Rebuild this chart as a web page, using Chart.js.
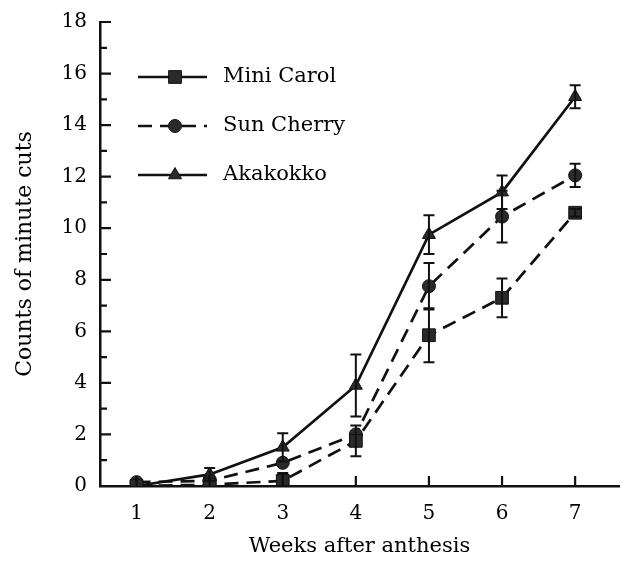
<!DOCTYPE html>
<html><head><meta charset="utf-8">
<script src="https://cdn.jsdelivr.net/npm/chart.js@4/dist/chart.umd.min.js"></script>
<style>html,body{margin:0;padding:0;background:#fff}</style>
</head><body>
<canvas id="c" width="629" height="563" style="display:block;width:629px;height:563px"></canvas>
<script>
// ---- data ----
const weeks = [1, 2, 3, 4, 5, 6, 7];
const seriesNames = ['Mini Carol', 'Sun Cherry', 'Akakokko'];
const miniCarol    = [0.0, 0.05, 0.2, 1.75, 5.85, 7.3, 10.6];
const miniCarolErr = [0, 0, 0.3, 0.6, 1.05, 0.75, 0.15];
const sunCherry    = [0.15, 0.2, 0.9, 2.0, 7.75, 10.45, 12.05];
const sunCherryErr = [0, 0, 0, 0, 0.9, 1.0, 0.45];
const akakokko     = [0.0, 0.45, 1.5, 3.9, 9.75, 11.4, 15.1];
const akakokkoErr  = [0, 0.25, 0.55, 1.2, 0.75, 0.65, 0.45];
const yTickValues = [0, 2, 4, 6, 8, 10, 12, 14, 16, 18];
const yMinorValues = [1, 3, 5, 7, 9, 11, 13, 15, 17];
const xTitle = 'Weeks after anthesis';
const yTitle = 'Counts of minute cuts';

const FONT = "'DejaVu Serif', 'Liberation Serif', serif";
const INK = '#111';
const DASH = [14, 8];

const values = [miniCarol, sunCherry, akakokko];
const errors = [miniCarolErr, sunCherryErr, akakokkoErr];
const styles = [
  { pointStyle: 'rect', radius: 9, dash: DASH, legendDash: [] },
  { pointStyle: 'circle', radius: 6.5, dash: DASH, legendDash: [14, 8] },
  { pointStyle: 'triangle', radius: 7.5, dash: [], legendDash: [] }
];

const datasets = seriesNames.map((name, i) => ({
  label: name,
  data: weeks.map((w, j) => ({ x: w, y: values[i][j] })),
  errors: errors[i],
  borderColor: INK,
  borderWidth: 2.7,
  borderDash: styles[i].dash,
  backgroundColor: '#2a2a2a',
  pointStyle: styles[i].pointStyle,
  pointRadius: styles[i].radius,
  pointBackgroundColor: '#2a2a2a',
  pointBorderColor: INK,
  pointBorderWidth: 1,
  tension: 0,
  fill: false
}));

const errorBars = {
  id: 'errorBars',
  afterDatasetsDraw(chart) {
    const ctx = chart.ctx;
    const xs = chart.scales.x, ys = chart.scales.y;
    ctx.save();
    ctx.strokeStyle = INK;
    ctx.lineWidth = 2;
    ctx.setLineDash([]);
    chart.data.datasets.forEach(ds => {
      ds.data.forEach((p, j) => {
        const e = ds.errors[j];
        if (!e) return;
        const px = xs.getPixelForValue(p.x);
        const top = ys.getPixelForValue(p.y + e);
        const bot = ys.getPixelForValue(Math.max(0, p.y - e));
        ctx.beginPath();
        ctx.moveTo(px, top); ctx.lineTo(px, bot);
        ctx.moveTo(px - 5.5, top); ctx.lineTo(px + 5.5, top);
        ctx.moveTo(px - 5.5, bot); ctx.lineTo(px + 5.5, bot);
        ctx.stroke();
      });
    });
    ctx.restore();
  }
};

const axisTicks = {
  id: 'axisTicks',
  afterDraw(chart) {
    const ctx = chart.ctx;
    const xs = chart.scales.x, ys = chart.scales.y;
    const a = chart.chartArea;
    ctx.save();
    ctx.strokeStyle = INK;
    ctx.lineWidth = 2.2;
    ctx.setLineDash([]);
    ctx.beginPath();
    yTickValues.forEach(v => {
      const py = ys.getPixelForValue(v);
      ctx.moveTo(a.left, py); ctx.lineTo(a.left + 11, py);
    });
    yMinorValues.forEach(v => {
      const py = ys.getPixelForValue(v);
      ctx.moveTo(a.left, py); ctx.lineTo(a.left + 7, py);
    });
    weeks.forEach(v => {
      const px = xs.getPixelForValue(v);
      ctx.moveTo(px, a.bottom); ctx.lineTo(px, a.bottom - 10);
    });
    ctx.stroke();
    ctx.restore();
  }
};

const lineLegend = {
  id: 'lineLegend',
  afterDraw(chart) {
    const ctx = chart.ctx;
    ctx.save();
    chart.data.datasets.forEach((ds, i) => {
      const y = 77 + i * 49;
      ctx.strokeStyle = INK;
      ctx.lineWidth = 2.7;
      ctx.setLineDash(styles[i].legendDash);
      ctx.beginPath();
      ctx.moveTo(138, y); ctx.lineTo(207, y);
      ctx.stroke();
      ctx.setLineDash([]);
      ctx.fillStyle = '#2a2a2a';
      ctx.lineWidth = 1;
      Chart.helpers.drawPoint(ctx, { pointStyle: styles[i].pointStyle, radius: styles[i].radius, borderWidth: 1 }, 175, y);
      ctx.fillStyle = '#000';
      ctx.font = '21px ' + FONT;
      ctx.textBaseline = 'middle';
      ctx.textAlign = 'left';
      ctx.fillText(ds.label, 223, y);
    });
    ctx.restore();
  }
};

new Chart(document.getElementById('c'), {
  type: 'line',
  data: { datasets },
  options: {
    responsive: false,
    devicePixelRatio: 1,
    animation: false,
    layout: { padding: { top: 22, right: 2, left: 0, bottom: 0 } },
    plugins: { legend: { display: false }, tooltip: { enabled: false } },
    scales: {
      x: {
        type: 'linear',
        min: 0.5, max: 7.6,
        afterBuildTicks: s => { s.ticks = weeks.map(v => ({ value: v })); },
        afterFit: s => { s.height = 77; },
        grid: { display: false },
        border: { display: true, color: INK, width: 2.5 },
        ticks: { color: '#000', font: { family: FONT, size: 20 }, padding: 8 },
        title: { display: true, text: xTitle, color: '#000', font: { family: FONT, size: 21 }, padding: { top: 5 } }
      },
      y: {
        type: 'linear',
        min: 0, max: 18,
        afterBuildTicks: s => { s.ticks = yTickValues.map(v => ({ value: v })); },
        afterFit: s => { s.width = 100; },
        grid: { display: false },
        border: { display: true, color: INK, width: 2.5 },
        ticks: { color: '#000', font: { family: FONT, size: 20 }, padding: 5 },
        title: { display: true, text: yTitle, color: '#000', font: { family: FONT, size: 22 }, padding: { top: 12, bottom: 0 } }
      }
    }
  },
  plugins: [errorBars, axisTicks, lineLegend]
});
</script>
</body></html>
